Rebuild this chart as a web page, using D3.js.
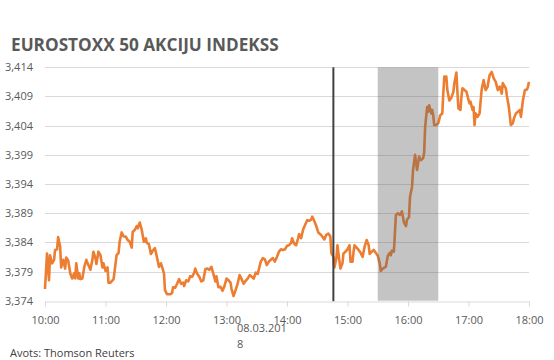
<!DOCTYPE html>
<html>
<head>
<meta charset="utf-8">
<script src="https://cdn.jsdelivr.net/npm/d3@7"></script>
<style>
  html, body { margin: 0; padding: 0; background: #fff; }
  svg { display: block; font-family: "Open Sans", sans-serif; }
</style>
</head>
<body>
<svg id="chart" width="554" height="360"></svg>
<script>
// ---- data ----
const title = "EUROSTOXX 50 AKCIJU INDEKSS";
const source = "Avots: Thomson Reuters";
const dateLabel = ["08.03.201", "8"];
const xTickLabels = ["10:00","11:00","12:00","13:00","14:00","15:00","16:00","17:00","18:00"];
const yTicks = [3374,3379,3384,3389,3394,3399,3404,3409,3414];
// minutes after 10:00
const minutes = [
0,2,4,5,7,9,10,12,13,15,16,18,20,21,23,25,27,29,30,31,33,34,35,37,39,41,43,45,47,48,
50,51,53,55,57,58,60,62,63,65,68,70,71,73,74,76,78,80,82,84,86,87,89,91,92,94,96,98,100,101,
103,105,107,109,111,113,115,117,118,119,121,124,126,127,129,131,133,135,137,138,140,142,144,146,148,149,151,153,155,157,
159,161,163,165,167,169,170,172,174,176,178,180,182,184,185,187,189,191,193,195,197,199,201,203,205,207,209,211,212,214,
216,218,220,222,224,226,228,230,232,234,236,238,240,242,244,245,247,249,251,252,
254,256,258,260,262,264,265,267,269,271,273,275,277,279,281,283,284,286,287,289,
290,291,293,295,296,298,300,302,303,305,306,307,309,311,313,315,317,319,321,322,
324,326,328,330,332,333,335,337,338,340,342,343,344,346,347,348,350,352,354,356,
358,359,361,362,364,365,367,369,371,373,375,376,377,379,380,381,383,384,385,386,
388,390,392,394,395,396,398,399,401,403,405,406,408,409,410,412,413,414,416,418,
420,421,422,424,425,426,427,429,431,433,435,437,439,440,441,443,445,447,449,451,
453,454,455,457,458,460,462,464,465,467,469,471,472,474,476,478,479,480];
const values = [
3376.0,3382.1,3377.5,3381.8,3380.4,3381.0,3382.7,3382.8,3384.9,3383.3,3379.7,3381.0,3379.5,3381.4,3380.9,3378.7,3377.8,3378.7,3377.8,3380.4,
3377.8,3378.7,3377.7,3377.8,3379.8,3381.0,3380.1,3379.3,3381.0,3382.4,3381.3,3380.3,3382.4,3381.8,3379.7,3380.4,3379.1,3379.7,3377.1,3377.1,
3377.7,3380.4,3381.8,3382.2,3384.1,3385.7,3385.0,3385.0,3384.4,3384.1,3383.1,3385.8,3386.1,3386.8,3386.4,3387.4,3386.1,3384.1,3384.7,3383.9,
3383.7,3382.0,3382.6,3383.0,3381.5,3379.8,3380.4,3379.3,3378.7,3375.8,3375.1,3375.1,3375.3,3376.3,3376.2,3376.9,3377.7,3376.9,3377.1,3376.5,
3377.5,3377.3,3378.2,3378.1,3378.8,3379.5,3378.6,3378.1,3377.3,3377.5,3379.4,3379.5,3379.3,3379.8,3378.6,3377.3,3378.2,3376.3,3376.4,3375.7,
3376.5,3377.8,3377.5,3377.1,3376.0,3374.8,3375.8,3376.9,3378.4,3377.7,3376.9,3377.4,3377.8,3378.4,3378.1,3377.8,3378.8,3378.6,3379.3,3380.7,
3381.3,3381.1,3380.1,3380.7,3381.0,3381.3,3380.7,3381.5,3382.4,3382.8,3382.7,3382.8,3383.4,3383.5,3383.9,3384.7,3383.8,3383.5,3384.7,3385.4,
3384.7,3386.2,3387.0,3387.8,3387.7,3387.9,3388.4,3387.7,3386.8,3385.7,3385.4,3385.0,3384.5,3385.3,3385.5,3385.0,3382.2,3381.5,3379.7,3381.3,
3383.5,3382.1,3379.5,3380.4,3382.1,3382.4,3382.8,3383.5,3380.7,3380.7,3382.4,3383.5,3383.1,3382.7,3382.2,3381.5,3383.3,3384.4,3383.5,3382.0,
3382.4,3382.7,3382.2,3381.7,3380.4,3379.1,3379.5,3379.7,3379.8,3381.7,3382.2,3381.8,3382.6,3382.4,3385.5,3388.7,3389.0,3388.7,3389.3,3387.4,
3386.8,3387.9,3388.3,3391.8,3393.5,3396.4,3399.0,3396.4,3398.7,3398.1,3398.4,3399.3,3403.8,3407.2,3406.4,3407.5,3406.1,3406.7,3405.8,3404.1,
3404.1,3404.4,3405.8,3406.1,3409.5,3412.4,3412.4,3410.1,3408.3,3408.8,3409.8,3411.3,3413.1,3409.8,3407.0,3406.7,3409.0,3410.4,3410.1,3409.8,
3408.4,3407.8,3408.1,3406.7,3407.2,3404.1,3406.1,3405.5,3406.1,3410.1,3411.8,3410.1,3410.7,3411.8,3412.7,3413.2,3412.1,3411.5,3410.1,3410.7,
3409.5,3411.3,3411.0,3410.4,3409.2,3407.2,3404.1,3404.4,3405.2,3406.1,3406.4,3406.7,3405.5,3408.4,3410.1,3410.2,3410.7,3411.5];
const markerMinute = 286;          // vertical line ~14:46
const bandMinutes = [330, 390];    // shaded 15:30 - 16:30

// ---- layout ----
const svg = d3.select("#chart");
const plotL = 45, plotR = 529, plotT = 67.3, plotB = 300.7;
const x = d3.scaleLinear().domain([0, 480]).range([plotL, plotR]);
const y = d3.scaleLinear().domain([3374, 3414]).range([plotB, plotT]);
const fmt = d3.format(",");
const textCol = "#595959";

// title
const t = svg.append("text").attr("x", 11).attr("y", 50.5)
  .attr("fill", textCol).attr("font-weight", "bold").attr("font-size", 18).text(title);
const tw = t.node().getComputedTextLength();
t.attr("font-size", 18 * 268 / tw);

// gridlines
svg.append("g").selectAll("line").data(yTicks.slice(1)).join("line")
  .attr("x1", plotL).attr("x2", plotR)
  .attr("y1", d => Math.round(y(d)) + 0.5).attr("y2", d => Math.round(y(d)) + 0.5)
  .attr("stroke", "#d9d9d9").attr("stroke-width", 1);

// y labels
svg.append("g").selectAll("text").data(yTicks).join("text")
  .attr("x", 33).attr("y", d => y(d) + 4)
  .attr("text-anchor", "end").attr("font-size", 11).attr("fill", textCol)
  .text(d => fmt(d));

// x axis
const xAxis = d3.axisBottom(x).tickValues(d3.range(0, 481, 60))
  .tickFormat((d, i) => xTickLabels[i]).tickSize(5).tickSizeOuter(0);
const ax = svg.append("g").attr("transform", `translate(0,${Math.round(plotB) + 0.5})`).call(xAxis);
ax.select(".domain").attr("stroke", "#d9d9d9");
ax.selectAll(".tick line").attr("stroke", "#d9d9d9");
ax.selectAll(".tick text").attr("fill", textCol).attr("font-size", 11)
  .attr("font-family", "Open Sans, sans-serif").attr("dy", null).attr("y", 22);

// date label
svg.append("text").attr("x", 237).attr("y", 331.5).attr("font-size", 11).attr("fill", textCol).text(dateLabel[0]);
svg.append("text").attr("x", 237).attr("y", 348).attr("font-size", 11).attr("fill", textCol).text(dateLabel[1]);

// source
svg.append("text").attr("x", 10).attr("y", 356.5).attr("font-size", 11).attr("fill", "#404040").text(source);

// line
const line = d3.line().x((d, i) => x(minutes[i])).y(d => y(d));
svg.append("path").datum(values).attr("d", line)
  .attr("fill", "none").attr("stroke", "#ED7D31").attr("stroke-width", 2.6)
  .attr("stroke-linejoin", "round");

// shaded band
svg.append("rect").attr("x", x(bandMinutes[0])).attr("y", plotT)
  .attr("width", x(bandMinutes[1]) - x(bandMinutes[0])).attr("height", plotB - plotT)
  .attr("fill", "rgb(100,100,100)").attr("fill-opacity", 0.38);

// vertical marker
svg.append("line").attr("x1", x(markerMinute)).attr("x2", x(markerMinute))
  .attr("y1", plotT).attr("y2", plotB + 0.5)
  .attr("stroke", "#404040").attr("stroke-width", 2);
</script>
</body>
</html>
